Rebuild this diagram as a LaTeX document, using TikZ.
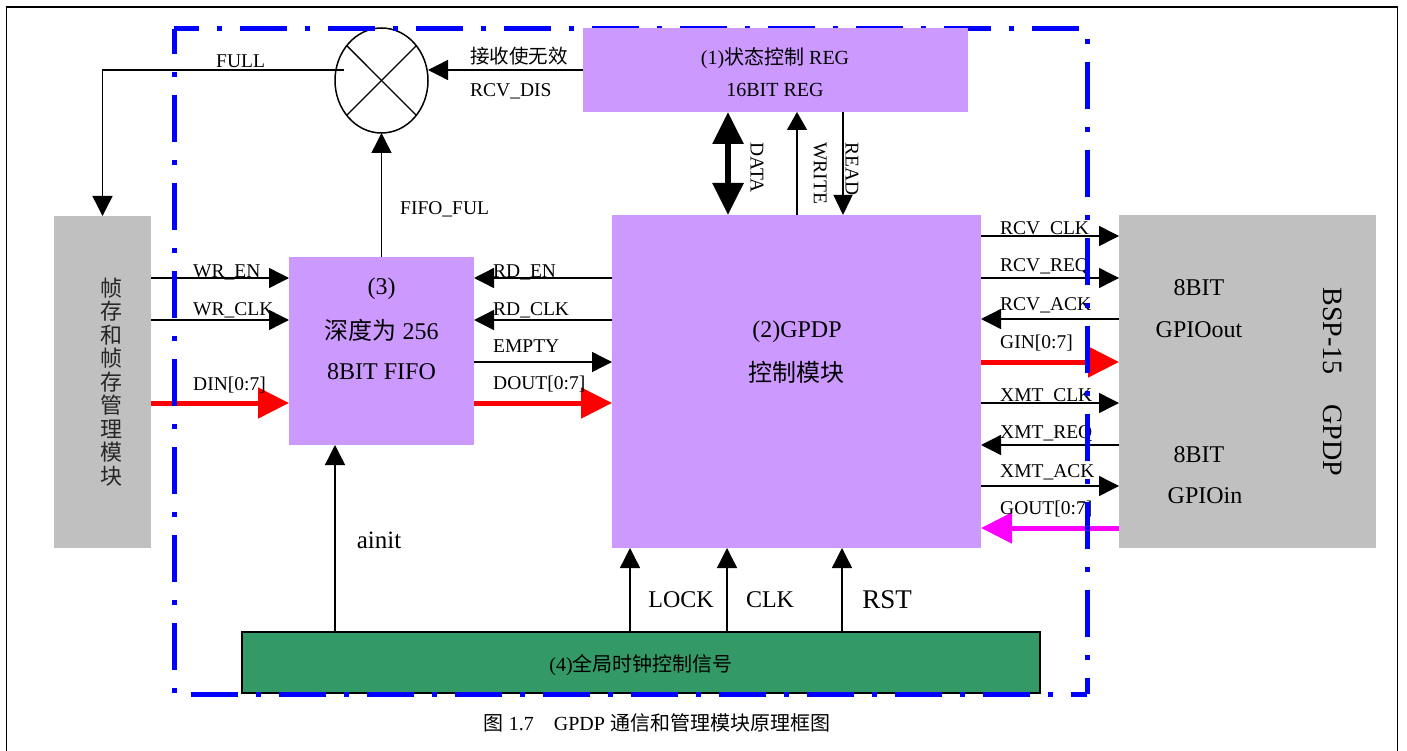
\documentclass[tikz,border=0pt]{standalone}
\usepackage{fontspec}
\setmainfont{Liberation Serif}
\newfontfamily\zhfont{Noto Sans CJK SC}
\usetikzlibrary{arrows.meta,shapes.geometric,calc}
\definecolor{lilac}{HTML}{CC99FF}
\definecolor{boxgrey}{HTML}{C0C0C0}
\definecolor{dkgreen}{HTML}{339966}
\definecolor{mag}{HTML}{FF00FF}
\begin{document}
\begin{tikzpicture}[x=1pt,y=-1pt,
  box/.style={rectangle,draw=none,fill=#1,inner sep=0pt,outer sep=0pt},
  sig/.style={draw=black,line width=1.4pt,-{Triangle[length=20pt,width=20pt]}},
  bus/.style={draw=#1,line width=5pt,-{Triangle[length=31pt,width=30pt]}},
  lbl/.style={inner sep=0pt,anchor=base west,font=\fontsize{19.5}{19.5}\selectfont},
  big/.style={inner sep=0pt,font=\fontsize{24}{24}\selectfont},
  vlbl/.style={inner sep=0pt,anchor=west,rotate=-90,font=\fontsize{19.5}{19.5}\selectfont},
  dashdot/.style={draw=blue,line width=5pt,dash pattern=on 47pt off 18pt on 5pt off 18pt,dash phase=22pt}]
\useasboundingbox (0,0) rectangle (1407,751);
\fill[white] (0,0) rectangle (1407,751);
% outer frame
\draw[line width=1.6pt] (6.5,770) -- (6.5,7) -- (1397.5,7) -- (1397.5,770);

% level and column coordinates
\coordinate (fullstart) at (344,70);
\coordinate (lvRcvClk) at (0,236);
\coordinate (lvRcvReq) at (0,278);
\coordinate (lvRcvAck) at (0,319);
\coordinate (lvGin) at (0,362);
\coordinate (lvXmtClk) at (0,403);
\coordinate (lvXmtReq) at (0,445);
\coordinate (lvXmtAck) at (0,486);
\coordinate (lvGout) at (0,528);
\coordinate (lvEn) at (0,278);
\coordinate (lvClk) at (0,320);
\coordinate (lvEmpty) at (0,362);
\coordinate (lvData) at (0,403);
\coordinate (cxAinit) at (335,0);
\coordinate (cxLock) at (630,0);
\coordinate (cxClk) at (727,0);
\coordinate (cxRst) at (842,0);
\coordinate (cxData) at (728,0);
\coordinate (cxWrite) at (797,0);
\coordinate (cxRead) at (843,0);

% boxes
\node[box=lilac, minimum width=185pt, minimum height=188pt] (fifo) at (381.5,351) {};
\node[box=lilac, minimum width=369pt, minimum height=333pt] (gpdp) at (796.5,381.5) {};
\node[box=boxgrey, minimum width=97pt, minimum height=332pt] (lbox) at (102.5,382) {};
\node[box=boxgrey, minimum width=257pt, minimum height=333pt] (rbox) at (1247.5,381.5) {};
\node[draw=black, line width=2pt, fill=dkgreen, inner sep=0pt, minimum width=798pt, minimum height=61pt] (gclk) at (641,662.5) {};
\node[ellipse, draw, line width=1.5pt, fill=white, inner sep=0pt, outer sep=0pt, minimum width=93pt, minimum height=105pt] (mix) at (381.5,80.5) {};
\draw[line width=1.4pt] (mix.135) -- (mix.-45);
\draw[line width=1.4pt] (mix.45) -- (mix.-135);

% box texts
\node[inner sep=0pt, align=center, text=black!85, font=\zhfont\fontsize{22}{23.5}\selectfont] (ltxt) at (111,382) {帧\\存\\和\\帧\\存\\管\\理\\模\\块};
\node[big] (f1) at (381.5,289) {(3)};
\node[big] (f2) at (381.5,330) {{\zhfont 深度为} 256};
\node[big] (f3) at (381.5,372) {8BIT FIFO};
\node[big] (g1) at (797,332) {(2)GPDP};
\node[big] (g2) at (796,372) {\zhfont 控制模块};
\node[big] (r1) at (1199,288) {8BIT};
\node[big] (r2) at (1199,330) {GPIOout};
\node[big] (r3) at (1199,455) {8BIT};
\node[big] (r4) at (1205,496) {GPIOin};
\node[inner sep=0pt, rotate=-90, font=\fontsize{28}{28}\selectfont] (bsp) at (1333,382) {BSP-15\hspace{30pt}GPDP};
\node[inner sep=0pt, font=\fontsize{20}{20}\selectfont] (gtxt) at (641,665) {(4){\zhfont 全局时钟控制信号}};

% mixer connections
\draw[sig] (fullstart) -| (lbox.north);
\draw[sig] (fifo.north) -- (mix.south);
\node[lbl] (tfull) at (216,68) {FULL};
\node[lbl] (tfifoful) at (400,215) {FIFO\_FUL};

% left signals
\draw[sig] (lbox.east |- lvEn) -- (fifo.west |- lvEn);
\draw[sig] (lbox.east |- lvClk) -- (fifo.west |- lvClk);
\draw[bus=red] (lbox.east |- lvData) -- (fifo.west |- lvData);
\node[lbl] (twren) at (193,277) {WR\_EN};
\node[lbl] (twrclk) at (193,315) {WR\_CLK};
\node[lbl] (tdin) at (193,390) {DIN[0:7]};

% fifo - gpdp
\draw[sig] (gpdp.west |- lvEn) -- (fifo.east |- lvEn);
\draw[sig] (gpdp.west |- lvClk) -- (fifo.east |- lvClk);
\draw[sig] (fifo.east |- lvEmpty) -- (gpdp.west |- lvEmpty);
\draw[bus=red] (fifo.east |- lvData) -- (gpdp.west |- lvData);
\node[lbl] (trden) at (493,277) {RD\_EN};
\node[lbl] (trdclk) at (493,315) {RD\_CLK};
\node[lbl] (tempty) at (493,352) {EMPTY};
\node[lbl] (tdout) at (493,389) {DOUT[0:7]};

% right signals
\draw[sig] (gpdp.east |- lvRcvClk) -- (rbox.west |- lvRcvClk);
\draw[sig] (gpdp.east |- lvRcvReq) -- (rbox.west |- lvRcvReq);
\draw[sig] (rbox.west |- lvRcvAck) -- (gpdp.east |- lvRcvAck);
\draw[bus=red] (gpdp.east |- lvGin) -- (rbox.west |- lvGin);
\draw[sig] (gpdp.east |- lvXmtClk) -- (rbox.west |- lvXmtClk);
\draw[sig] (rbox.west |- lvXmtReq) -- (gpdp.east |- lvXmtReq);
\draw[sig] (gpdp.east |- lvXmtAck) -- (rbox.west |- lvXmtAck);
\draw[bus=mag] (rbox.west |- lvGout) -- (gpdp.east |- lvGout);
\node[lbl] (trcvclk) at (1000,235) {RCV\_CLK};
\node[lbl] (trcvreq) at (1000,271) {RCV\_REQ};
\node[lbl] (trcvack) at (1000,310) {RCV\_ACK};
\node[lbl] (tgin) at (1000,348) {GIN[0:7]};
\node[lbl] (txmtclk) at (1000,401) {XMT\_CLK};
\node[lbl] (txmtreq) at (1000,438) {XMT\_REQ};
\node[lbl] (txmtack) at (1000,477) {XMT\_ACK};
\node[lbl] (tgout) at (1000,514) {GOUT[0:7]};

% bottom signals
\draw[sig] (gclk.north -| cxAinit) -- (fifo.south -| cxAinit);
\draw[sig] (gclk.north -| cxLock) -- (gpdp.south -| cxLock);
\draw[sig] (gclk.north -| cxClk) -- (gpdp.south -| cxClk);
\draw[sig] (gclk.north -| cxRst) -- (gpdp.south -| cxRst);
\node[inner sep=0pt, font=\fontsize{25}{25}\selectfont] (tainit) at (379,540) {ainit};
\node[inner sep=0pt, font=\fontsize{24}{24}\selectfont] (tlock) at (681,600) {LOCK};
\node[inner sep=0pt, font=\fontsize{24}{24}\selectfont] (tclk) at (770,600) {CLK};
\node[inner sep=0pt, font=\fontsize{27}{27}\selectfont] (trst) at (887,600) {RST};

% blue dash-dot frame
\draw[dashdot] (174,29) -- (1087,29) -- (1087,694);
\draw[dashdot] (174,29) -- (174,694) -- (1087,694);

% status register (drawn over the frame)
\node[box=lilac, minimum width=385pt, minimum height=84pt] (reg) at (775.5,70) {};
\node[inner sep=0pt, font=\fontsize{20}{20}\selectfont] (reg1) at (775,58) {(1){\zhfont 状态控制} REG};
\node[inner sep=0pt, font=\fontsize{20}{20}\selectfont] (reg2) at (775,90) {16BIT REG};
\draw[sig] (reg.west) -- (reg.west -| mix.east);
\node[lbl, font=\zhfont\fontsize{19.5}{19.5}\selectfont] (tjs) at (470,64) {接收使无效};
\node[lbl] (trcvdis) at (470,97) {RCV\_DIS};
\draw[line width=6pt, {Triangle[length=32pt,width=30pt]}-{Triangle[length=32pt,width=30pt]}] (reg.south -| cxData) -- (gpdp.north -| cxData);
\draw[sig, -{Triangle[length=18pt,width=20pt]}] (gpdp.north -| cxWrite) -- (reg.south -| cxWrite);
\draw[sig, -{Triangle[length=20pt,width=19pt]}] (reg.south -| cxRead) -- (gpdp.north -| cxRead);
\node[vlbl] (tdata) at (757,142) {DATA};
\node[vlbl] (twrite) at (820,142) {WRITE};
\node[vlbl] (tread) at (852,142) {READ};

% caption
\node[inner sep=0pt, font=\fontsize{20}{20}\selectfont] (cap) at (657,723) {{\zhfont 图} 1.7\hspace{20pt}GPDP {\zhfont 通信和管理模块原理框图}};
\end{tikzpicture}
\end{document}
